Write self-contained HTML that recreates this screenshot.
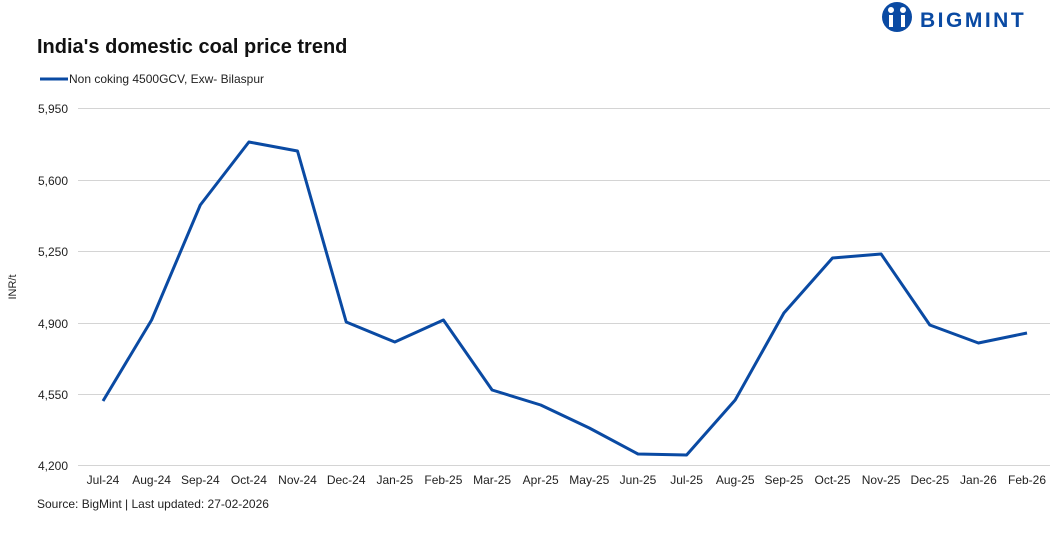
<!DOCTYPE html>
<html><head><meta charset="utf-8"><style>
body{margin:0;background:#fff;width:1058px;height:528px;overflow:hidden}
text{font-family:"Liberation Sans",sans-serif}
</style></head><body>
<svg width="1058" height="528" xmlns="http://www.w3.org/2000/svg">
<g fill="#0a4aa3">
<circle cx="897" cy="17" r="15"/>
</g>
<g fill="#fff">
<circle cx="891" cy="10" r="3"/><circle cx="903" cy="10" r="3"/>
<rect x="889" y="15" width="4" height="12"/><rect x="901" y="15" width="4" height="12"/>
</g>
<text x="920" y="27" font-size="21" font-weight="bold" fill="#0a4aa3" letter-spacing="2.5">BIGMINT</text>
<text x="37" y="53" font-size="20" font-weight="bold" fill="#111">India's domestic coal price trend</text>
<line x1="40" y1="79" x2="68" y2="79" stroke="#0a4aa3" stroke-width="3"/>
<text x="69" y="83" font-size="12" fill="#222">Non coking 4500GCV, Exw- Bilaspur</text>
<g stroke="#d4d4d4" stroke-width="1">
<line x1="78" y1="108.5" x2="1050" y2="108.5"/>
<line x1="78" y1="180.5" x2="1050" y2="180.5"/>
<line x1="78" y1="251.5" x2="1050" y2="251.5"/>
<line x1="78" y1="323.5" x2="1050" y2="323.5"/>
<line x1="78" y1="394.5" x2="1050" y2="394.5"/>
<line x1="78" y1="465.5" x2="1050" y2="465.5"/>
</g>
<g font-size="12" fill="#222" text-anchor="end">
<text x="68" y="113">5,950</text><text x="68" y="185">5,600</text>
<text x="68" y="256">5,250</text><text x="68" y="328">4,900</text>
<text x="68" y="399">4,550</text><text x="68" y="470">4,200</text>
</g>
<text transform="translate(16,287) rotate(-90)" font-size="11" fill="#222" text-anchor="middle">INR/t</text>
<polyline fill="none" stroke="#0a4aa3" stroke-width="3" stroke-linejoin="round"
points="103,401 151.6,320 200.3,205 248.9,142 297.5,151 346.2,322 394.8,342 443.4,320 492.1,390 540.7,405 589.3,428 638,454 686.6,455 735.2,400 783.9,313 832.5,258 881.1,254 929.8,325 978.4,343 1027,333"/>
<g font-size="12" fill="#222" text-anchor="middle">
<text x="103" y="484">Jul-24</text><text x="151.6" y="484">Aug-24</text><text x="200.3" y="484">Sep-24</text><text x="248.9" y="484">Oct-24</text><text x="297.5" y="484">Nov-24</text><text x="346.2" y="484">Dec-24</text><text x="394.8" y="484">Jan-25</text><text x="443.4" y="484">Feb-25</text><text x="492.1" y="484">Mar-25</text><text x="540.7" y="484">Apr-25</text><text x="589.3" y="484">May-25</text><text x="638" y="484">Jun-25</text><text x="686.6" y="484">Jul-25</text><text x="735.2" y="484">Aug-25</text><text x="783.9" y="484">Sep-25</text><text x="832.5" y="484">Oct-25</text><text x="881.1" y="484">Nov-25</text><text x="929.8" y="484">Dec-25</text><text x="978.4" y="484">Jan-26</text><text x="1027" y="484">Feb-26</text>
</g>
<text x="37" y="508" font-size="12" fill="#222">Source: BigMint | Last updated: 27-02-2026</text>
</svg>
</body></html>
